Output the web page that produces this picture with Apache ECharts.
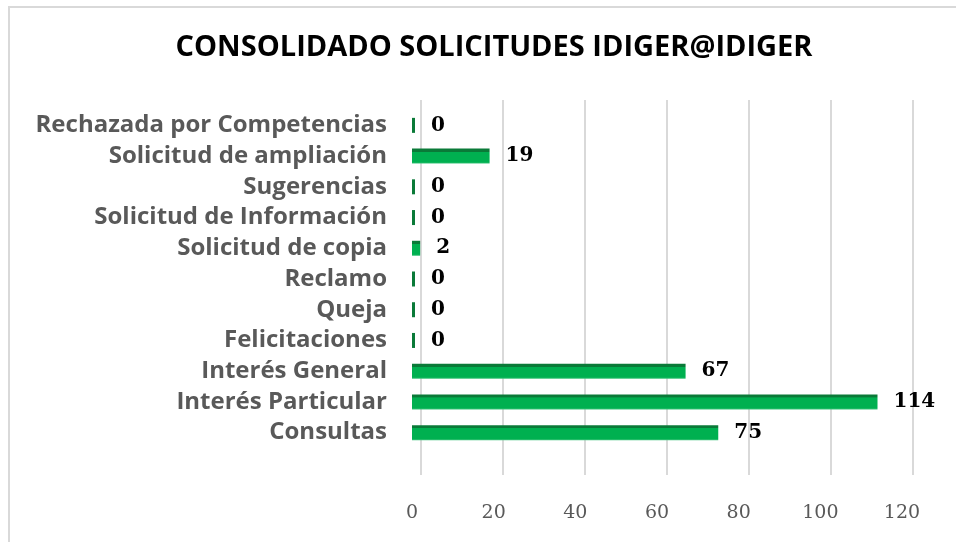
<!DOCTYPE html>
<html>
<head>
<meta charset="utf-8">
<script src="https://cdn.jsdelivr.net/npm/echarts@6/dist/echarts.min.js"></script>
<style>
  html, body { margin: 0; padding: 0; background: #fff; overflow: hidden; }
  .frame {
    position: absolute; left: 8px; top: 6px; width: 1000px; height: 600px;
    border: 2px solid #d9d9d9;
  }
  #chart { position: absolute; left: 0; top: 0; width: 956px; height: 542px; }
</style>
</head>
<body>
<div class="frame"></div>
<div id="chart"></div>
<script>
  // categories listed top to bottom as in the picture
  const categories = [
    'Rechazada por Competencias',
    'Solicitud de ampliación',
    'Sugerencias',
    'Solicitud de Información',
    'Solicitud de copia',
    'Reclamo',
    'Queja',
    'Felicitaciones',
    'Interés General',
    'Interés Particular',
    'Consultas',
  ]
  const values = [0, 19, 0, 0, 2, 0, 0, 0, 67, 114, 75]
  const ticks = [0, 20, 40, 60, 80, 100, 120]

  const chart = echarts.init(document.getElementById('chart'))

  const barColor = new echarts.graphic.LinearGradient(0, 0, 0, 1, [
    { offset: 0, color: '#0a7a38' },
    { offset: 0.2, color: '#0a7a38' },
    { offset: 0.21, color: '#00b050' },
    { offset: 0.9, color: '#00b050' },
    { offset: 1, color: '#3cc47a' },
  ])

  chart.setOption({
    animation: false,
    title: {
      text: 'CONSOLIDADO SOLICITUDES IDIGER@IDIGER',
      left: 489,
      top: 28,
      textAlign: 'center',
      textStyle: {
        fontFamily: 'Open Sans',
        fontWeight: 'bold',
        fontSize: 29,
        color: '#000',
      },
    },
    grid: [
      { left: 412, right: 54, top: 110, bottom: 94, outerBoundsMode: 'none' },
      { left: 421, right: 43, top: 100, bottom: 67, outerBoundsMode: 'none' },
    ],
    xAxis: [
      {
        gridIndex: 0,
        type: 'value',
        min: ticks[0],
        max: ticks[ticks.length - 1],
        interval: 20,
        axisLine: { show: false },
        axisTick: { show: false },
        splitLine: { show: false },
        axisLabel: {
          margin: 56,
          color: '#595959',
          fontFamily: 'DejaVu Serif',
          fontSize: 19,
        },
      },
      {
        gridIndex: 1,
        type: 'value',
        min: ticks[0],
        max: ticks[ticks.length - 1],
        interval: 20,
        axisLine: { show: false },
        axisTick: { show: false },
        axisLabel: { show: false },
        splitLine: { lineStyle: { color: '#d9d9d9', width: 2 } },
      },
    ],
    yAxis: [
      {
        gridIndex: 0,
        type: 'category',
        data: categories,
        inverse: true,
        axisLine: { show: false },
        axisTick: { show: false },
        axisLabel: {
          interval: 0,
          margin: 25,
          color: '#595959',
          fontFamily: 'Open Sans',
          fontWeight: 'bold',
          fontSize: 24,
        },
      },
      {
        gridIndex: 1,
        type: 'category',
        data: categories,
        inverse: true,
        show: false,
      },
    ],
    series: [
      {
        type: 'bar',
        xAxisIndex: 0,
        yAxisIndex: 0,
        data: values,
        barWidth: 15,
        barMinHeight: 3,
        itemStyle: {
          color: (p) => (p.value === 0 ? '#0a7a38' : barColor),
        },
        label: {
          show: true,
          position: 'right',
          distance: 16,
          color: '#000',
          fontFamily: 'DejaVu Serif',
          fontWeight: 'bold',
          fontSize: 20,
        },
        z: 5,
      },
    ],
  })
</script>
</body>
</html>
